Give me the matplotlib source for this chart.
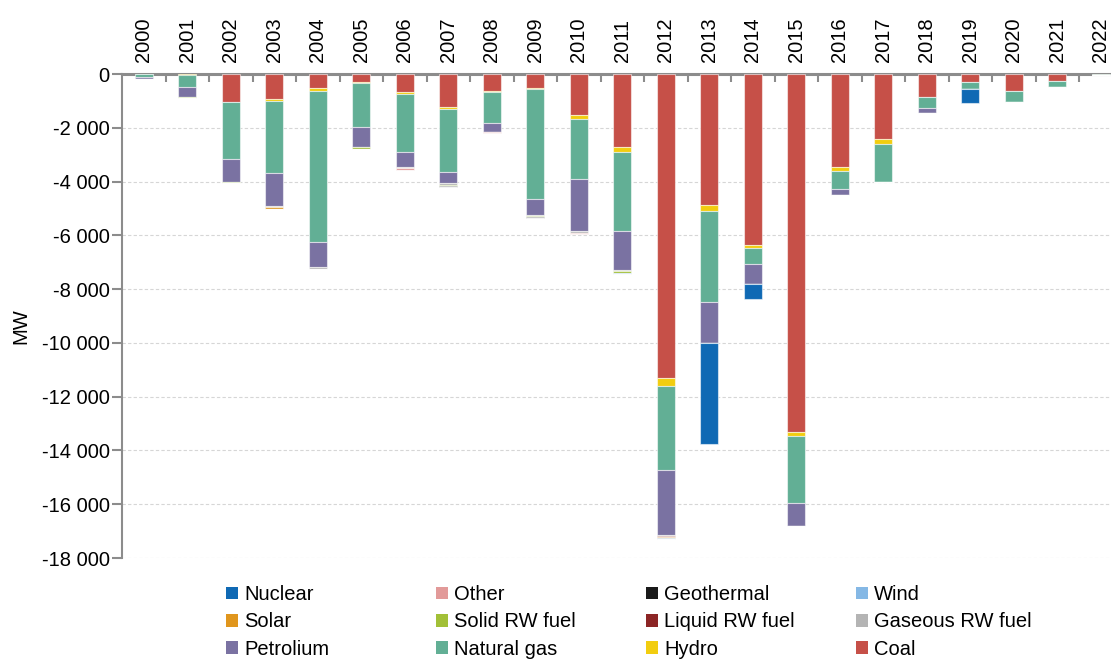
"""Retired capacity by energy source, stacked bars per year."""

import matplotlib

matplotlib.use("Agg")
import matplotlib.pyplot as plt
import numpy as np
from matplotlib.patches import Patch
from matplotlib.ticker import FixedLocator

plt.rcParams["font.family"] = ["Liberation Sans", "DejaVu Sans"]

years = list(range(2000, 2023))

# MW per year, 2000..2022 (negative = retired)
coal = [0, 0, -1040, -930, -520, -300, -670, -1240, -620, -520, -1540, -2720,
        -11290, -4880, -6370, -13300, -3465, -2420, -845, -300, -635, -260, 0]
hydro = [0, -40, 0, -60, -110, -25, -60, -50, -35, -25, -125, -175,
         -310, -210, -112, -150, -125, -200, 0, 0, 0, 0, 0]
natural_gas = [-100, -440, -2136, -2680, -5600, -1640, -2160, -2350, -1155, -4090, -2225, -2930,
               -3120, -3390, -584, -2500, -670, -1390, -435, -250, -410, -235, -50]
petrolium = [-70, -360, -832, -1255, -955, -760, -570, -420, -360, -610, -1950, -1480,
             -2415, -1510, -745, -855, -250, 0, -175, 0, 0, 0, 0]
gaseous_rw = [0, 0, 0, -30, -60, 0, -50, -50, 0, -35, -60, -40,
              -50, 0, 0, 0, 0, 0, 0, 0, 0, 0, 0]
liquid_rw = [0, 0, 0, 0, 0, 0, 0, 0, 0, 0, 0, 0,
             -40, 0, 0, 0, 0, 0, 0, 0, 0, 0, 0]
solid_rw = [-30, -40, -40, 0, 0, -60, 0, -50, 0, -35, 0, -50,
            0, 0, 0, 0, 0, 0, 0, 0, 0, 0, 0]
solar = [0, 0, 0, -50, 0, 0, 0, 0, 0, 0, 0, 0,
         -40, -30, 0, 0, 0, 0, 0, 0, 0, 0, 0]
wind = [0, 0, 0, 0, 0, 0, 0, 0, 0, 0, 0, -30,
        -40, 0, 0, 0, 0, 0, 0, 0, 0, 0, 0]
geothermal = [0, 0, 0, 0, 0, 0, 0, -35, 0, -40, 0, 0,
              0, 0, 0, 0, 0, 0, 0, 0, 0, 0, 0]
other = [0, 0, 0, 0, 0, 0, -50, 0, -35, 0, -60, 0,
         0, 0, 0, 0, 0, 0, 0, 0, 0, 0, 0]
nuclear = [0, 0, 0, 0, 0, 0, 0, 0, 0, 0, 0, 0,
           0, -3730, -546, 0, 0, 0, 0, -545, 0, 0, 0]

# stacking order from zero downwards
series = [
    ("Coal", coal, "#C65048"),
    ("Hydro", hydro, "#F2CD0F"),
    ("Natural gas", natural_gas, "#62AF95"),
    ("Petrolium", petrolium, "#7A72A2"),
    ("Gaseous RW fuel", gaseous_rw, "#B4B4B4"),
    ("Liquid RW fuel", liquid_rw, "#8C2525"),
    ("Solid RW fuel", solid_rw, "#A2C037"),
    ("Solar", solar, "#E0961D"),
    ("Wind", wind, "#85B8E5"),
    ("Geothermal", geothermal, "#1A1A1A"),
    ("Other", other, "#E29A99"),
    ("Nuclear", nuclear, "#0F69B4"),
]

legend_columns = [
    ["Nuclear", "Solar", "Petrolium"],
    ["Other", "Solid RW fuel", "Natural gas"],
    ["Geothermal", "Liquid RW fuel", "Hydro"],
    ["Wind", "Gaseous RW fuel", "Coal"],
]

W, H = 1111, 660
fig = plt.figure(figsize=(W / 100, H / 100), dpi=100)
ax = fig.add_axes([122 / W, 1 - 558 / H, 1000.5 / W, 484 / H])

x = np.arange(len(years))
bottom = np.zeros(len(years))
colors = {}
for name, values, color in series:
    vals = np.array(values, dtype=float)
    ax.bar(x, vals, width=0.42, bottom=bottom, color=color,
           edgecolor=(1, 1, 1, 0.55), linewidth=0.8, zorder=3)
    bottom += vals
    colors[name] = color

ax.set_xlim(-0.5, len(years) - 0.5)
ax.set_ylim(-18000, 0)

yt = np.arange(-18000, 1, 2000)
ax.set_yticks(yt)
ax.set_yticklabels([f"{v:,}".replace(",", " ") for v in yt], fontsize=14.5)
ax.yaxis.grid(True, linestyle=(0, (3, 2)), color="#d6d6d6", linewidth=0.8, zorder=0)

ax.xaxis.set_ticks_position("top")
ax.set_xticks(x)
ax.set_xticklabels([str(y) for y in years], rotation=90, fontsize=14.5)
ax.xaxis.set_minor_locator(FixedLocator(np.arange(0.5, len(years) - 0.5, 1)))
ax.tick_params(axis="x", which="major", length=0, pad=9)
ax.tick_params(axis="x", which="minor", direction="in", length=6, width=1.5, color="#8c8c8c", top=True)
ax.tick_params(axis="y", direction="out", length=7, width=1.5, color="#8c8c8c", pad=2)

for side in ["right", "bottom"]:
    ax.spines[side].set_visible(False)
ax.spines["left"].set_color("#8c8c8c")
ax.spines["left"].set_linewidth(1.5)
ax.spines["top"].set_color("#8c8c8c")
ax.spines["top"].set_linewidth(2.2)

ax.set_ylabel("MW", fontsize=14.5)
ax.yaxis.set_label_coords(-(122 - 30) / 1000.5, 0.48)

col_x = [226, 436, 646, 856]
for cx, names in zip(col_x, legend_columns):
    handles = [Patch(facecolor=colors[n], edgecolor="none") for n in names]
    fig.legend(handles, names, loc="upper left", bbox_to_anchor=(cx / W, 1 - 585 / H),
               frameon=False, fontsize=14.5, handlelength=0.6, handleheight=0.6,
               handletextpad=0.3, labelspacing=0.42, borderpad=0, borderaxespad=0)

fig.savefig("out.png", dpi=100)
